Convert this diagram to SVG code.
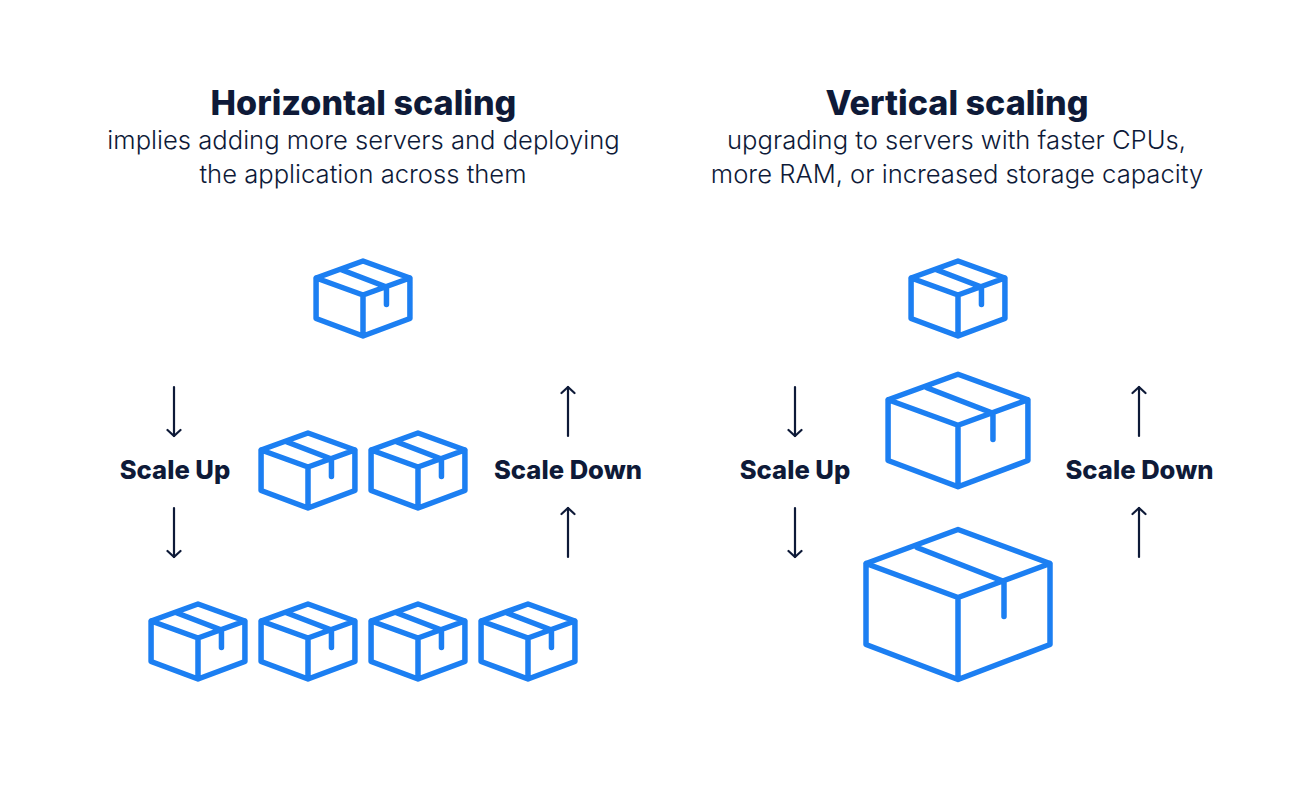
<svg xmlns="http://www.w3.org/2000/svg" width="1291" height="800" viewBox="0 0 1291 800">
<style>
text{font-family:Inter,"Liberation Sans",sans-serif;fill:#0e1a38;text-anchor:middle}
.t{font-size:34.100px;font-weight:800}
.s{font-size:25.600px;font-weight:300}
.l{font-size:25.600px;font-weight:800}
.b{fill:none;stroke:#1c7ff2;stroke-width:5.500;stroke-linejoin:round;stroke-linecap:round}
.b path{vector-effect:non-scaling-stroke}
.a{fill:none;stroke:#0e1a38;stroke-width:2.200;stroke-linecap:round;stroke-linejoin:round}
</style>
<defs>
<g id="box" class="b"><path d="M0-75 92-41V40L0 75-92 40V-41ZM-92-41 0-7 92-41M0-7V75M-41-57 46-23V12"/></g>
<marker id="ah" viewBox="-8 -8 16 16" markerWidth="16" markerHeight="16" markerUnits="userSpaceOnUse" orient="auto"><path class="a" d="M-6-6.500 0 0-6 6.500"/></marker>
</defs>
<rect width="1291" height="800" fill="#fff"/>
<g id="title-horizontal"><text class="t" x="363.500" y="115">Horizontal scaling</text><text class="s" x="363.500" y="149">implies adding more servers and deploying</text><text class="s" x="363" y="183">the application across them</text></g>
<g id="title-vertical"><text class="t" x="957" y="115">Vertical scaling</text><text class="s" x="956.500" y="149">upgrading to servers with faster CPUs,</text><text class="s" x="957" y="183">more RAM, or increased storage capacity</text></g>
<g id="h1"><use href="#box" transform="translate(363 298.500) scale(.51 .5)"/></g>
<g id="h2a"><use href="#box" transform="translate(308 470.500) scale(.51 .5)"/></g>
<g id="h2b"><use href="#box" transform="translate(418 470.500) scale(.51 .5)"/></g>
<g id="h4a"><use href="#box" transform="translate(198 641.500) scale(.51 .5)"/></g>
<g id="h4b"><use href="#box" transform="translate(308 641.500) scale(.51 .5)"/></g>
<g id="h4c"><use href="#box" transform="translate(418 641.500) scale(.51 .5)"/></g>
<g id="h4d"><use href="#box" transform="translate(528 641.500) scale(.51 .5)"/></g>
<g id="v-small"><use href="#box" transform="translate(958 298.500) scale(.51 .5)"/></g>
<g id="v-medium"><use href="#box" transform="translate(958 430.500) scale(.76 .75)"/></g>
<g id="v-large"><use href="#box" transform="translate(958 604.500)"/></g>
<g id="labels"><text class="l" x="175" y="479">Scale Up</text><text class="l" x="568" y="479">Scale Down</text><text class="l" x="795" y="479">Scale Up</text><text class="l" x="1139.500" y="479">Scale Down</text></g>
<g id="connectors" class="a">
<path marker-end="url(#ah)" d="M174 387V436"/><path marker-end="url(#ah)" d="M174 508V557"/>
<path marker-end="url(#ah)" d="M568 436V387"/><path marker-end="url(#ah)" d="M568 557V508"/>
<path marker-end="url(#ah)" d="M795 387V436"/><path marker-end="url(#ah)" d="M795 508V557"/>
<path marker-end="url(#ah)" d="M1139 436V387"/><path marker-end="url(#ah)" d="M1139 557V508"/>
</g>
</svg>
